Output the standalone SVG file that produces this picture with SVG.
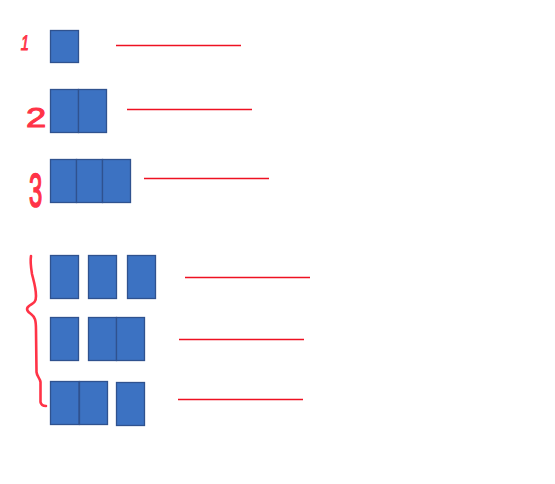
<svg xmlns="http://www.w3.org/2000/svg" width="555" height="484" viewBox="0 0 555 484">
<style>
.b{fill:#3C72C2;stroke:#2F528F;stroke-width:1.3}
.l{stroke:#EE1122;stroke-width:1.4;fill:none}
.n{fill:#FF3347;stroke:#FF3347;stroke-width:1;font-family:"Liberation Sans",sans-serif}
</style>
<rect width="555" height="484" fill="#fff"/>
<g id="label1"><text class="n" x="0" y="0" font-size="21" transform="translate(20,50) scale(0.7,1) skewX(-12)">1</text></g>
<g id="label2"><text class="n" x="26" y="127" font-size="28" transform="translate(26,127) scale(1.3,1) translate(-26,-127)">2</text></g>
<g id="label3"><text class="n" x="0" y="0" font-size="28" transform="translate(29,207) scale(0.85,1.7)">3</text></g>
<g id="row1"><rect class="b" x="50.5" y="30.5" width="28" height="32"/></g>
<g id="row2"><rect class="b" x="50.5" y="89.5" width="28" height="43"/><rect class="b" x="78.5" y="89.5" width="28" height="43"/></g>
<g id="row3"><rect class="b" x="50.5" y="159.5" width="26" height="43"/><rect class="b" x="76.5" y="159.5" width="26" height="43"/><rect class="b" x="102.5" y="159.5" width="28" height="43"/></g>
<g id="row4"><rect class="b" x="50.5" y="255.5" width="28" height="43"/><rect class="b" x="88.5" y="255.5" width="28" height="43"/><rect class="b" x="127.5" y="255.5" width="28" height="43"/></g>
<g id="row5"><rect class="b" x="50.5" y="317.5" width="28" height="43"/><rect class="b" x="88.5" y="317.5" width="28" height="43"/><rect class="b" x="116.5" y="317.5" width="28" height="43"/></g>
<g id="row6"><rect class="b" x="50.5" y="381.5" width="28.5" height="43"/><rect class="b" x="79.5" y="381.5" width="28" height="43"/><rect class="b" x="116.5" y="382.5" width="28" height="43"/></g>
<g id="brace"><path d="M31,256 C30,262 31,268 32,274 C34,282 36,288 36,296 C36,303 33,303 29,306 C25,309 28,312 31,314 C35,317 36,320 36,330 L36.5,372 C37,377 40,378 40.5,382 L40.5,402 C41,405 43,406 46,406" fill="none" stroke="#FF3347" stroke-width="2.6" stroke-linecap="round"/></g>
<g id="connectors">
<line class="l" x1="116" y1="45.5" x2="241" y2="45.5"/>
<line class="l" x1="127" y1="109.5" x2="252" y2="109.5"/>
<line class="l" x1="144" y1="178.5" x2="269" y2="178.5"/>
<line class="l" x1="185" y1="277.5" x2="310" y2="277.5"/>
<line class="l" x1="179" y1="339.5" x2="304" y2="339.5"/>
<line class="l" x1="178" y1="399.5" x2="303" y2="399.5"/>
</g>
</svg>
